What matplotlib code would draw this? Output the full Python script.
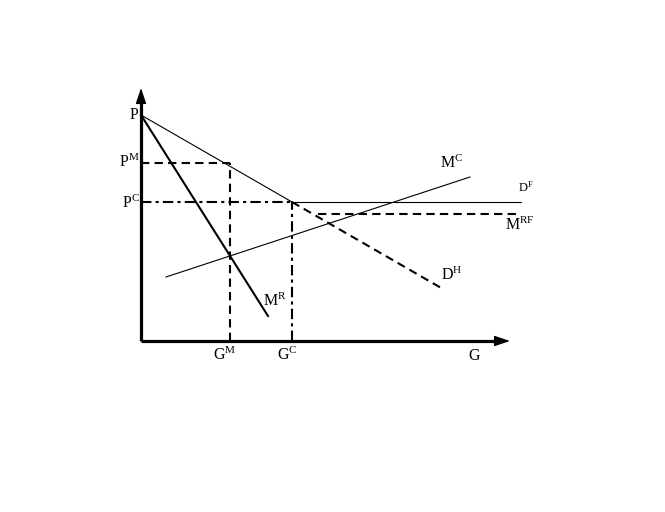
import matplotlib
matplotlib.use("Agg")
import matplotlib.pyplot as plt

plt.rcParams['mathtext.fontset'] = 'custom'
plt.rcParams['mathtext.rm'] = 'Liberation Serif'
plt.rcParams['mathtext.it'] = 'Liberation Serif'
plt.rcParams['font.family'] = ['Liberation Serif', 'DejaVu Serif']

# Data (G = quantity, P = price), origin at the axes corner
p_top = 226
p_m = 178
p_c = 139
g_m = 89
g_c = 151
g_axis_end = 369
p_axis_end = 253

demand_x = [0, 151]
demand_y = [226, 139]
dh_x = [151, 302]
dh_y = [139, 52]
mr_x = [0, 127]
mr_y = [226, 25]
mc_x = [25, 329]
mc_y = [64, 164]
df_x = [151, 380]
df_y = [139, 139]
mrf_x = [177, 380]
mrf_y = [127, 127]

fig = plt.figure(figsize=(6.65, 5.12), dpi=100)
ax = fig.add_axes([0, 0, 1, 1])
ax.set_xlim(-141, 524)
ax.set_ylim(-171, 341)
ax.axis('off')

k = 'black'
# axes with arrows
ax.plot([0, g_axis_end - 12], [0, 0], color=k, lw=2.3, solid_capstyle='butt')
ax.plot([0, 0], [0, p_axis_end - 12], color=k, lw=2.3, solid_capstyle='butt')
ax.annotate('', xy=(g_axis_end, 0), xytext=(g_axis_end - 14, 0),
            arrowprops=dict(arrowstyle='-|>,head_length=0.95,head_width=0.32', color=k, lw=1,
                            shrinkA=0, shrinkB=0))
ax.annotate('', xy=(0, p_axis_end), xytext=(0, p_axis_end - 14),
            arrowprops=dict(arrowstyle='-|>,head_length=0.95,head_width=0.32', color=k, lw=1,
                            shrinkA=0, shrinkB=0))

# curves
ax.plot(demand_x, demand_y, color=k, lw=0.8)
ax.plot(dh_x, dh_y, color=k, lw=1.5, dashes=(4, 2.5))
ax.plot(mr_x, mr_y, color=k, lw=1.5)
ax.plot(mc_x, mc_y, color=k, lw=0.8)
ax.plot(df_x, df_y, color=k, lw=0.8)
ax.plot(mrf_x, mrf_y, color=k, lw=1.5, dashes=(4, 2.5))

# guide lines
ax.plot([0, g_m], [p_m, p_m], color=k, lw=1.5, dashes=(4, 2.5))
ax.plot([g_m, g_m], [0, p_m], color=k, lw=1.5, dashes=(4, 2.5))
ax.plot([0, g_c], [p_c, p_c], color=k, lw=1.5, dashes=(5, 2, 1.5, 2))
ax.plot([g_c, g_c], [0, p_c], color=k, lw=1.5, dashes=(5, 2, 1.5, 2))

fs = 11.5
def lab(x, y, s, size=fs, ha='left'):
    ax.text(x, y, s, fontsize=size, ha=ha, va='center', color=k)

lab(-3, p_top, 'P', ha='right')
lab(-1, p_m + 1, r'$\mathrm{P^{M}}$', ha='right')
lab(-1, p_c - 1, r'$\mathrm{P^{C}}$', ha='right')
lab(g_m - 17, -14, r'$\mathrm{G^{M}}$')
lab(g_c - 15, -14, r'$\mathrm{G^{C}}$')
lab(327, -15, 'G')
lab(299, 178, r'$\mathrm{M^{C}}$')
lab(377, 154, r'$\mathrm{D^{F}}$', size=9)
lab(364, 116, r'$\mathrm{M^{RF}}$')
lab(300, 66, r'$\mathrm{D^{H}}$')
lab(122, 40, r'$\mathrm{M^{R}}$')

fig.savefig('out.png', dpi=100)
